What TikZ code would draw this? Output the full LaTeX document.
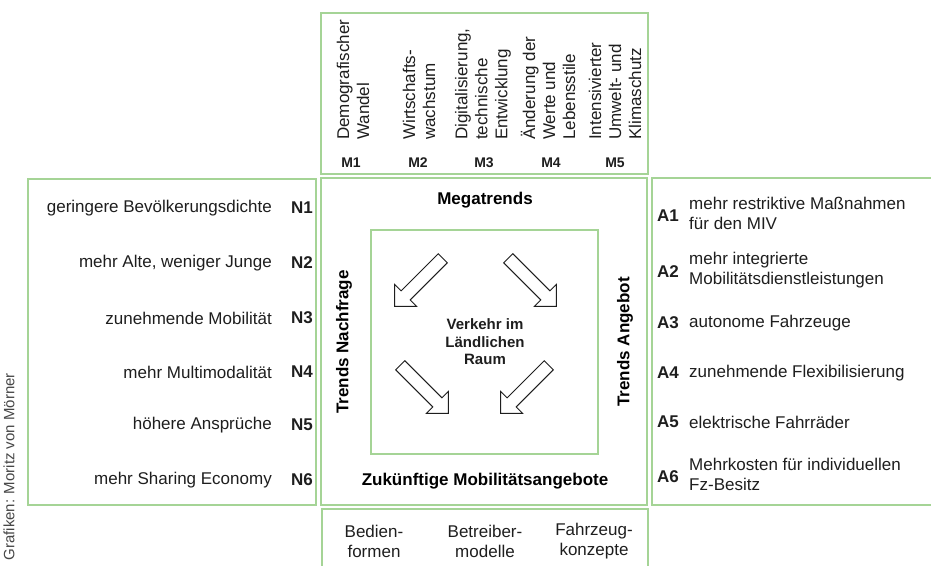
\documentclass[tikz,border=0pt]{standalone}
\usepackage{fontspec}
\setmainfont{Liberation Sans}
\usetikzlibrary{shapes.arrows}
\definecolor{boxgreen}{RGB}{165,212,150}
\definecolor{txtdark}{RGB}{30,30,30}
\definecolor{credgray}{RGB}{70,70,70}
\tikzset{
  greenbox/.style={draw=boxgreen, line width=1.6pt},
  item/.style={font=\fontsize{17}{20}\selectfont, text=txtdark, inner sep=0},
  itemleft/.style={item, anchor=east, align=right},
  itemright/.style={item, anchor=west, align=left},
  tag/.style={item, font=\fontsize{17}{20}\selectfont\bfseries},
  mtag/.style={item, font=\fontsize{14}{17}\selectfont\bfseries},
  coltext/.style={item, rotate=90, anchor=west, align=left},
  heading/.style={tag, text=black},
  centertext/.style={item, font=\fontsize{15}{17.5}\selectfont\bfseries, align=center},
  hollow/.style={single arrow, draw=txtdark, line width=0.9pt, fill=white,
    inner sep=6pt, minimum height=68pt, single arrow head extend=9pt,
    single arrow tip angle=90},
  credit/.style={font=\fontsize{15}{18}\selectfont, text=credgray, inner sep=0}
}

\begin{document}
\begin{tikzpicture}[x=1pt,y=-1pt]

\clip (0,0) rectangle (931,565);

\draw[greenbox] (321,13) rectangle (648,174);
\draw[greenbox] (28,179) rectangle (316,505);
\draw[greenbox] (321,178) rectangle (647,505);
\draw[greenbox] (652,178) rectangle (945,505);
\draw[greenbox] (322,509) rectangle (648,590);
\draw[greenbox] (371,230) rectangle (598,454);

% Megatrends oben
\node[coltext] (m1text) at (353,140) {Demografischer\\Wandel};
\node[coltext] (m2text) at (419,140) {Wirtschafts-\\wachstum};
\node[coltext] (m3text) at (483,140) {Digitalisierung,\\technische\\Entwicklung};
\node[coltext] (m4text) at (548,140) {Änderung der\\Werte und\\Lebensstile};
\node[coltext] (m5text) at (615,140) {Intensivierter\\Umwelt- und\\Klimaschutz};

\node[mtag] (m1) at (351,163) {M1};
\node[mtag] (m2) at (418,163) {M2};
\node[mtag] (m3) at (484,163) {M3};
\node[mtag] (m4) at (551,163) {M4};
\node[mtag] (m5) at (615,163) {M5};

% Nachfrage links
\node[itemleft] (n1text) at (272,208) {geringere Bevölkerungsdichte};
\node[itemleft] (n2text) at (272,263) {mehr Alte, weniger Junge};
\node[itemleft] (n3text) at (272,318) {zunehmende Mobilität};
\node[itemleft] (n4text) at (272,372) {mehr Multimodalität};
\node[itemleft] (n5text) at (272,425) {höhere Ansprüche};
\node[itemleft] (n6text) at (272,480) {mehr Sharing Economy};

\node[tag, anchor=east] (n1) at (313,208) {N1};
\node[tag, anchor=east] (n2) at (313,263) {N2};
\node[tag, anchor=east] (n3) at (313,318) {N3};
\node[tag, anchor=east] (n4) at (313,372) {N4};
\node[tag, anchor=east] (n5) at (313,425) {N5};
\node[tag, anchor=east] (n6) at (313,480) {N6};

% Angebot rechts
\node[tag, anchor=west] (a1) at (657,216) {A1};
\node[tag, anchor=west] (a2) at (657,272) {A2};
\node[tag, anchor=west] (a3) at (657,323) {A3};
\node[tag, anchor=west] (a4) at (657,373) {A4};
\node[tag, anchor=west] (a5) at (657,422) {A5};
\node[tag, anchor=west] (a6) at (657,477) {A6};

\node[itemright] (a1text) at (689,213) {mehr restriktive Maßnahmen\\für den MIV};
\node[itemright] (a2text) at (689,270) {mehr integrierte\\Mobilitätsdienstleistungen};
\node[itemright] (a3text) at (689,323) {autonome Fahrzeuge};
\node[itemright] (a4text) at (689,373) {zunehmende Flexibilisierung};
\node[itemright] (a5text) at (689,422) {elektrische Fahrräder};
\node[itemright] (a6text) at (689,474) {Mehrkosten für individuellen\\Fz-Besitz};

% Mitte
\node[heading] (mega) at (485,200) {Megatrends};
\node[heading] (zukunft) at (485,481) {Zukünftige Mobilitätsangebote};
\node[heading, rotate=90] (nachfrage) at (344,342) {Trends Nachfrage};
\node[heading, rotate=90] (angebot) at (625,342) {Trends Angebot};

\node[hollow, rotate=225] (arrtl) at (421,280) {};
\node[hollow, rotate=-45] (arrtr) at (530,280) {};
\node[hollow, rotate=-45] (arrbl) at (422,387) {};
\node[hollow, rotate=225] (arrbr) at (527,387) {};

\node[centertext] (raum) at (485,342) {Verkehr im\\Ländlichen\\Raum};

% unten
\node[item, align=center] (bedien) at (374,541) {Bedien-\\formen};
\node[item, align=center] (betreiber) at (485,541) {Betreiber-\\modelle};
\node[item, align=center] (fahrzeug) at (594,541) {Fahrzeug-\\konzepte};

\node[credit, rotate=90, anchor=east] (credit) at (9,373) {Grafiken: Moritz von Mörner};

\end{tikzpicture}
\end{document}
